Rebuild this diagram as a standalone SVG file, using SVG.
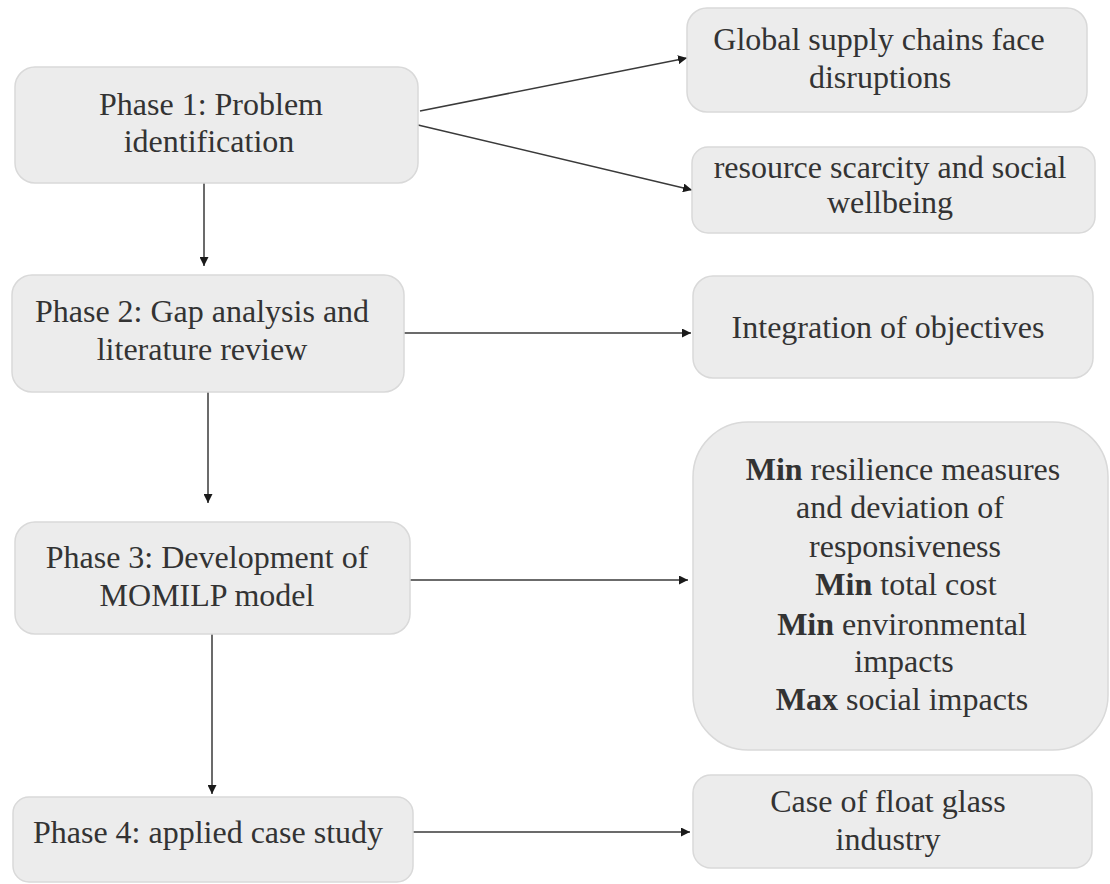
<svg xmlns="http://www.w3.org/2000/svg" width="1110" height="884" viewBox="0 0 1110 884">
  <style>
    .box { fill: #ececec; stroke: #d9d9d9; stroke-width: 1.5; }
    .lbl { font-family: "Liberation Serif", "Times New Roman", serif; font-size: 32px; fill: #333333; text-anchor: middle; }
    .b { font-weight: bold; }
    .edge { stroke: #3a3a3a; stroke-width: 1.5; fill: none; marker-end: url(#arrow); }
  </style>
  <defs>
    <marker id="arrow" viewBox="0 0 10 10" refX="10" refY="5" markerWidth="9" markerHeight="9" markerUnits="userSpaceOnUse" orient="auto">
      <path d="M0,0 L10,5 L0,10 z" fill="#1a1a1a"/>
    </marker>
  </defs>
  <rect width="1110" height="884" fill="#ffffff"/>

  <!-- Connectors -->
  <g id="connectors">
    <line class="edge" x1="420" y1="111" x2="687" y2="58"/>
    <line class="edge" x1="418" y1="125" x2="692" y2="190"/>
    <line class="edge" x1="204" y1="183" x2="204" y2="266"/>
    <line class="edge" x1="404" y1="333" x2="691" y2="333"/>
    <line class="edge" x1="208" y1="392" x2="208" y2="503"/>
    <line class="edge" x1="410" y1="580" x2="688" y2="580"/>
    <line class="edge" x1="212" y1="634" x2="212" y2="794"/>
    <line class="edge" x1="413" y1="832" x2="690" y2="832"/>
  </g>

  <!-- Phase 1 -->
  <g id="phase1">
    <rect class="box" x="15" y="67" width="403" height="116" rx="20"/>
    <text class="lbl" x="211" y="115">Phase 1: Problem</text>
    <text class="lbl" x="209" y="152">identification</text>
  </g>

  <!-- Global supply chains -->
  <g id="global-supply">
    <rect class="box" x="687" y="8" width="400" height="104" rx="20"/>
    <text class="lbl" x="879" y="50">Global supply chains face</text>
    <text class="lbl" x="880" y="88">disruptions</text>
  </g>

  <!-- Resource scarcity -->
  <g id="resource-scarcity">
    <rect class="box" x="692" y="147" width="403" height="86" rx="16"/>
    <text class="lbl" x="890" y="178">resource scarcity and social</text>
    <text class="lbl" x="890" y="213">wellbeing</text>
  </g>

  <!-- Phase 2 -->
  <g id="phase2">
    <rect class="box" x="12" y="275" width="392" height="117" rx="20"/>
    <text class="lbl" x="202" y="322">Phase 2: Gap analysis and</text>
    <text class="lbl" x="202" y="360">literature review</text>
  </g>

  <!-- Integration of objectives -->
  <g id="integration">
    <rect class="box" x="693" y="276" width="400" height="102" rx="20"/>
    <text class="lbl" x="888" y="338">Integration of objectives</text>
  </g>

  <!-- Phase 3 -->
  <g id="phase3">
    <rect class="box" x="15" y="522" width="395" height="112" rx="20"/>
    <text class="lbl" x="207" y="568">Phase 3: Development of</text>
    <text class="lbl" x="207" y="606">MOMILP model</text>
  </g>

  <!-- Objectives -->
  <g id="objectives">
    <rect class="box" x="693" y="422" width="415" height="328" rx="55"/>
    <text class="lbl" x="903" y="480"><tspan class="b">Min</tspan> resilience measures</text>
    <text class="lbl" x="900" y="518">and deviation of</text>
    <text class="lbl" x="905" y="557">responsiveness</text>
    <text class="lbl" x="906" y="595"><tspan class="b">Min</tspan> total cost</text>
    <text class="lbl" x="902" y="635"><tspan class="b">Min</tspan> environmental</text>
    <text class="lbl" x="904" y="672">impacts</text>
    <text class="lbl" x="902" y="710"><tspan class="b">Max</tspan> social impacts</text>
  </g>

  <!-- Phase 4 -->
  <g id="phase4">
    <rect class="box" x="13" y="797" width="400" height="85" rx="16"/>
    <text class="lbl" x="208" y="843">Phase 4: applied case study</text>
  </g>

  <!-- Case of float glass -->
  <g id="case-study">
    <rect class="box" x="693" y="775" width="399" height="93" rx="18"/>
    <text class="lbl" x="888" y="812">Case of float glass</text>
    <text class="lbl" x="888" y="850">industry</text>
  </g>
</svg>
